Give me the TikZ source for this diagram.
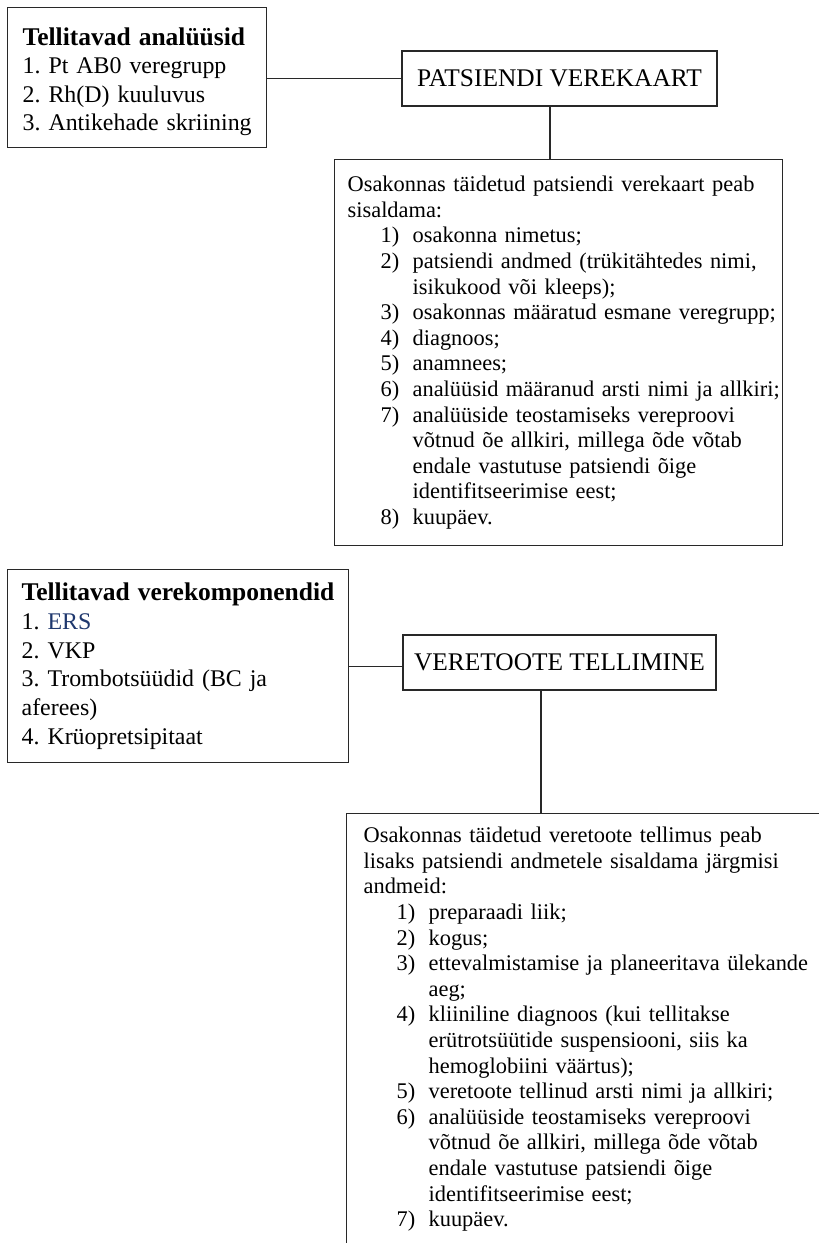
\documentclass[tikz,border=0pt]{standalone}
\usepackage{fontspec}
\setmainfont{Liberation Serif}
\usetikzlibrary{calc}
\definecolor{ersblue}{RGB}{31,56,110}
\definecolor{linecol}{RGB}{40,40,40}
\newcommand\litem[2]{\mbox{\hspace*{33pt}\makebox[32pt][l]{#1}#2}}
\newcommand\lcont[1]{\mbox{\hspace*{65pt}#1}}
\newcommand\headtxt[1]{\mbox{\fontsize{25.5}{28}\selectfont\textbf{#1}}}
\tikzset{
  frame/.style={draw=linecol, line width=1.3pt, fill=white},
  bigtext/.style={font=\frenchspacing\fontsize{23.9}{28.3}\selectfont},
  bigtextb/.style={font=\frenchspacing\fontsize{23.9}{28.8}\selectfont},
  smalltext/.style={font=\frenchspacing\fontsize{22.4}{25.6}\selectfont},
  titlebox/.style={frame, font=\fontsize{25.4}{28}\selectfont, minimum height=55pt, inner sep=0pt},
  conn/.style={draw=linecol, line width=1.3pt}
}
\begin{document}
\begin{tikzpicture}[x=1pt,y=-1pt]
\useasboundingbox (0,0) rectangle (819,1243);
\clip (0,0) rectangle (819,1243);
\fill[white] (0,0) rectangle (819,1243);

% group 1
\node[frame, bigtext, anchor=north west, minimum width=259pt, minimum height=140pt,
      text width=229pt, inner xsep=15pt, inner ysep=0pt, align=left] (b1) at (7,7)
  {\mbox{\rule{0pt}{26pt}\headtxt{Tellitavad analüüsid}}\\
   \mbox{1. Pt AB0 veregrupp}\\
   \mbox{2. Rh(D) kuuluvus}\\
   \mbox{3. Antikehade skriining}};

\node[titlebox, minimum width=315pt] (pv) at (559.5,78.5) {PATSIENDI VEREKAART};

\node[frame, smalltext, anchor=north west, text width=422pt, inner xsep=13pt,
      inner ysep=16.5pt, align=left] (b3) at (334,159)
  {\mbox{Osakonnas täidetud patsiendi verekaart peab}\\
   \mbox{sisaldama:}\\
   \litem{1)}{osakonna nimetus;}\\
   \litem{2)}{patsiendi andmed (trükitähtedes nimi,}\\
   \lcont{isikukood või kleeps);}\\
   \litem{3)}{osakonnas määratud esmane veregrupp;}\\
   \litem{4)}{diagnoos;}\\
   \litem{5)}{anamnees;}\\
   \litem{6)}{analüüsid määranud arsti nimi ja allkiri;}\\
   \litem{7)}{analüüside teostamiseks vereproovi}\\
   \lcont{võtnud õe allkiri, millega õde võtab}\\
   \lcont{endale vastutuse patsiendi õige}\\
   \lcont{identifitseerimise eest;}\\
   \litem{8)}{kuupäev.}};

\draw[conn] (pv.west) -- (pv.west -| b1.east);
\draw[conn] ([xshift=-9.5pt]pv.south) -- ([xshift=-9.5pt]pv.south |- b3.north);

% group 2
\node[frame, bigtextb, anchor=north west, minimum width=341pt, minimum height=193pt,
      text width=313pt, inner xsep=14pt, inner ysep=0pt, align=left] (b4) at (7,569)
  {\headtxt{Tellitavad verekomponendid}\\
   \mbox{1. \textcolor{ersblue}{ERS}}\\
   \mbox{2. VKP}\\
   \mbox{3. Trombotsüüdid (BC ja}\\
   \mbox{aferees)}\\
   \mbox{4. Krüopretsipitaat}};

\node[titlebox, minimum width=313pt] (vt) at (559.5,662.5) {VERETOOTE TELLIMINE};

\node[frame, smalltext, anchor=north west, text width=480pt, inner xsep=17pt,
      inner ysep=13.5pt, align=left] (b6) at (346,813)
  {\mbox{Osakonnas täidetud veretoote tellimus peab}\\
   \mbox{lisaks patsiendi andmetele sisaldama järgmisi}\\
   \mbox{andmeid:}\\
   \litem{1)}{preparaadi liik;}\\
   \litem{2)}{kogus;}\\
   \litem{3)}{ettevalmistamise ja planeeritava ülekande}\\
   \lcont{aeg;}\\
   \litem{4)}{kliiniline diagnoos (kui tellitakse}\\
   \lcont{erütrotsüütide suspensiooni, siis ka}\\
   \lcont{hemoglobiini väärtus);}\\
   \litem{5)}{veretoote tellinud arsti nimi ja allkiri;}\\
   \litem{6)}{analüüside teostamiseks vereproovi}\\
   \lcont{võtnud õe allkiri, millega õde võtab}\\
   \lcont{endale vastutuse patsiendi õige}\\
   \lcont{identifitseerimise eest;}\\
   \litem{7)}{kuupäev.}\\[60pt]
   \mbox{}};

\draw[conn] (b4.east) -- (b4.east -| vt.west);
\draw[conn] ([xshift=-18.5pt]vt.south) -- ([xshift=-18.5pt]vt.south |- b6.north);
\end{tikzpicture}
\end{document}
